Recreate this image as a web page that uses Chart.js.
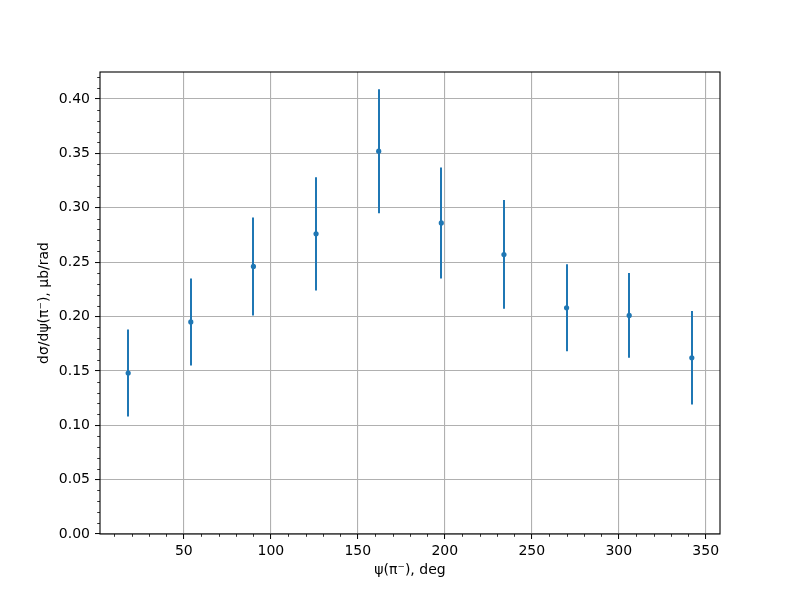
<!DOCTYPE html>
<html>

<head>
  <meta charset="utf-8">
  <title>dσ/dψ</title>
  <style>
    body {
      margin: 0;
      background: #fff;
    }

    canvas {
      display: block;
    }
  </style>
</head>

<body>
  <canvas id="chart" width="800" height="600"></canvas>

  <script src="https://cdn.jsdelivr.net/npm/chart.js"></script>

  <script>
    // data
    const psi = [18, 54, 90, 126, 162, 198, 234, 270, 306, 342];
    const dsdpsi = [0.148, 0.195, 0.246, 0.276, 0.352, 0.286, 0.257, 0.208, 0.201, 0.162];
    const errs = [0.040, 0.040, 0.045, 0.052, 0.057, 0.051, 0.050, 0.040, 0.039, 0.043];

    const xTicks = [50, 100, 150, 200, 250, 300, 350];
    const yTicks = [0, 0.05, 0.10, 0.15, 0.20, 0.25, 0.30, 0.35, 0.40];
    const xMinorStep = 10;
    const yMinorStep = 0.01;

    const blue = '#1f77b4';
    const font = { family: 'DejaVu Sans', size: 14 };

    const errorBars = {
      id: 'errorBars',
      beforeDatasetsDraw(chart) {
        const { ctx, chartArea, scales: { x, y } } = chart;
        ctx.save();
        ctx.beginPath();
        ctx.rect(chartArea.left, chartArea.top, chartArea.width, chartArea.height);
        ctx.clip();
        ctx.strokeStyle = blue;
        ctx.lineWidth = 2;
        psi.forEach((v, i) => {
          const px = Math.round(x.getPixelForValue(v));
          ctx.beginPath();
          ctx.moveTo(px, y.getPixelForValue(dsdpsi[i] - errs[i]));
          ctx.lineTo(px, y.getPixelForValue(dsdpsi[i] + errs[i]));
          ctx.stroke();
        });
        ctx.restore();
      },
      afterDraw(chart) {
        const { ctx, chartArea: a, scales: { x, y } } = chart;
        ctx.save();
        ctx.strokeStyle = '#000';
        // minor ticks
        ctx.lineWidth = 0.8;
        ctx.beginPath();
        for (let v = x.min - (x.min % xMinorStep) + xMinorStep; v <= x.max; v += xMinorStep) {
          if (Math.abs(v % 50) < 1e-6) continue;
          const px = Math.round(x.getPixelForValue(v)) + 0.5;
          ctx.moveTo(px, a.bottom);
          ctx.lineTo(px, a.bottom + 2.8);
        }
        for (let k = 1; k * yMinorStep <= y.max; k++) {
          if (k % 5 === 0) continue;
          const py = Math.round(y.getPixelForValue(k * yMinorStep)) + 0.5;
          ctx.moveTo(a.left, py);
          ctx.lineTo(a.left - 2.8, py);
        }
        ctx.stroke();
        // frame
        ctx.lineWidth = 1.1;
        ctx.strokeRect(a.left, a.top, a.width, a.height);
        ctx.restore();
      }
    };

    new Chart(document.getElementById('chart'), {
      type: 'scatter',
      data: {
        datasets: [{
          data: psi.map((v, i) => ({ x: v, y: dsdpsi[i] })),
          backgroundColor: blue,
          borderColor: blue,
          pointRadius: 2.6,
          pointBorderWidth: 0,
          pointHoverRadius: 2.6
        }]
      },
      options: {
        responsive: false,
        animation: false,
        devicePixelRatio: 1,
        layout: { padding: { top: 72, right: 80, left: 0, bottom: 0 } },
        plugins: { legend: { display: false }, tooltip: { enabled: false } },
        scales: {
          x: {
            type: 'linear',
            min: 1.8,
            max: 358.2,
            afterBuildTicks: s => { s.ticks = xTicks.map(v => ({ value: v })); },
            afterFit: s => { s.height = 66; },
            grid: { color: '#b0b0b0', lineWidth: 1.1, tickColor: '#000', tickLength: 5, tickWidth: 1 },
            border: { display: false },
            ticks: { font, color: '#000', padding: 4, maxRotation: 0, callback: v => String(v) },
            title: { display: true, text: 'ψ(π⁻), deg', font, color: '#000', padding: { top: 0, bottom: 21 } }
          },
          y: {
            type: 'linear',
            min: 0,
            max: 0.4248,
            afterBuildTicks: s => { s.ticks = yTicks.map(v => ({ value: v })); },
            afterFit: s => { s.width = 100; },
            grid: { color: '#b0b0b0', lineWidth: 1.1, tickColor: '#000', tickLength: 5, tickWidth: 1 },
            border: { display: false },
            ticks: { font, color: '#000', padding: 5, callback: v => v.toFixed(2) },
            title: { display: true, text: 'dσ/dψ(π⁻), μb/rad', font, color: '#000', padding: { top: 36, bottom: 0 } }
          }
        }
      },
      plugins: [errorBars]
    });
  </script>
</body>

</html>
